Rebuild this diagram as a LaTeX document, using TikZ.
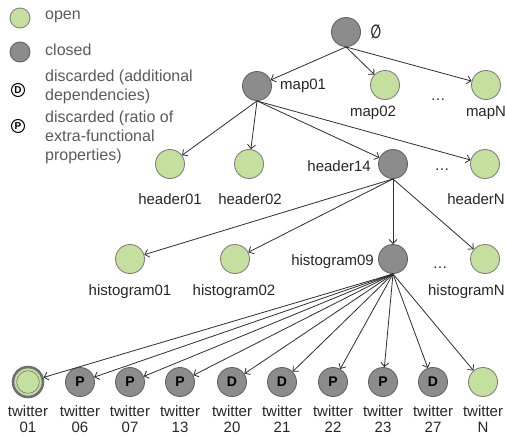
\documentclass[tikz,border=0pt]{standalone}
\usepackage{fontspec}
\setmainfont{Liberation Sans}
\newfontfamily\symfont{DejaVu Sans}
\usetikzlibrary{arrows.meta}
\definecolor{openfill}{RGB}{197,224,158}
\definecolor{openline}{RGB}{128,128,128}
\definecolor{closedfill}{RGB}{140,140,140}
\definecolor{closedline}{RGB}{100,100,100}
\definecolor{legendtext}{RGB}{90,90,90}
\definecolor{edgecol}{RGB}{45,45,45}
\definecolor{ringcol}{RGB}{112,112,112}
\begin{document}
\begin{tikzpicture}[x=1pt,y=-1pt,
  statebase/.style={circle, minimum size=29pt, inner sep=0pt, line width=0.9pt},
  opennode/.style={statebase, fill=openfill, draw=openline},
  closednode/.style={statebase, fill=closedfill, draw=closedline, font=\fontsize{14}{14}\selectfont\bfseries},
  lbl/.style={font=\fontsize{15}{16}\selectfont, text=black!85, inner sep=0pt, align=center},
  leg/.style={font=\fontsize{16}{19}\selectfont, text=legendtext, inner sep=0pt, anchor=west, align=left},
  legmark/.style={circle, inner sep=0pt, minimum size=13pt, fill=white, draw=black, line width=1pt, font=\fontsize{10}{10}\selectfont\bfseries},
  edge/.style={draw=edgecol, line width=0.8pt, -{Straight Barb[length=4pt,width=8pt]}},
  ]
\useasboundingbox (0,0) rectangle (505,437);

% legend
\node[opennode, minimum size=20pt] (lo) at (20,18) {};
\node[leg] (lot) at (45,17) {open};
\node[closednode, minimum size=20pt] (lc) at (20,52) {};
\node[leg] (lct) at (45,50) {closed};
\node[legmark] (ld) at (18,90) {D};
\node[leg] (ldt) at (45,87) {discarded (additional\\dependencies)};
\node[legmark] (lp) at (18,126) {P};
\node[leg] (lpt) at (45,137) {discarded (ratio of\\extra-functional\\properties)};

% level 0
\node[closednode] (root) at (346,32) {};
\node[lbl, xscale=0.65] (rootl) at (376,32) {\fontsize{19}{19}\selectfont\symfont\bfseries ∅};

% level 1
\node[closednode] (map01) at (257,86) {};
\node[lbl, anchor=west] (map01l) at (280,86) {map01};
\node[opennode] (map02) at (385,85) {};
\node[lbl] (map02l) at (373,113) {map02};
\node[opennode] (mapN) at (486,85) {};
\node[lbl] (mapNl) at (486,113) {mapN};
\node[lbl] (dots1) at (438,100) {\dots};

% level 2
\node[opennode] (h01) at (170,164) {};
\node[lbl] (h01l) at (170,199) {header01};
\node[opennode] (h02) at (249,164) {};
\node[lbl] (h02l) at (250,199) {header02};
\node[closednode] (h14) at (393,164) {};
\node[lbl, anchor=east] (h14l) at (371,166) {header14};
\node[opennode] (hN) at (485,164) {};
\node[lbl, anchor=east] (hNl) at (505,199) {headerN};
\node[lbl] (dots2) at (442,170) {\dots};

% level 3
\node[opennode] (g01) at (130,259) {};
\node[lbl] (g01l) at (130,292) {histogram01};
\node[opennode] (g02) at (235,259) {};
\node[lbl] (g02l) at (234,292) {histogram02};
\node[closednode] (g09) at (393,259) {};
\node[lbl, anchor=east] (g09l) at (374,262) {histogram09};
\node[opennode] (gN) at (485,259) {};
\node[lbl, anchor=east] (gNl) at (505,292) {histogramN};
\node[lbl] (dots3) at (440,268) {\dots};

% level 4
\node[statebase, fill=openfill, draw=ringcol, line width=2.6pt, minimum size=30pt] (t01) at (28,382) {};
\draw[openline, line width=0.7pt] (t01.center) circle (11.3pt);
\node[closednode] (t06) at (80,382) {P};
\node[closednode] (t07) at (130,382) {P};
\node[closednode] (t13) at (180,382) {P};
\node[closednode] (t20) at (232,382) {D};
\node[closednode] (t21) at (282,382) {D};
\node[closednode] (t22) at (333,382) {P};
\node[closednode] (t23) at (383,382) {P};
\node[closednode] (t27) at (433,382) {D};
\node[opennode] (tN) at (483,382) {};
\foreach \n/\x in {01/28,06/80,07/130,13/180,20/232,21/282,22/333,23/383,27/433,N/483}
  \node[lbl] (t\n l) at (\x,419) {twitter\\\n};

% edges
\foreach \c in {map01,map02,mapN} \draw[edge] (root.south) -- (\c);
\foreach \c in {h01,h02,h14,hN} \draw[edge] (map01.south) -- (\c);
\foreach \c in {g01,g02,g09,gN} \draw[edge] (h14.south) -- (\c);
\foreach \c in {t01,t06,t07,t13,t20,t21,t22,t23,t27,tN} \draw[edge] (g09.south) -- (\c);
\end{tikzpicture}
\end{document}
